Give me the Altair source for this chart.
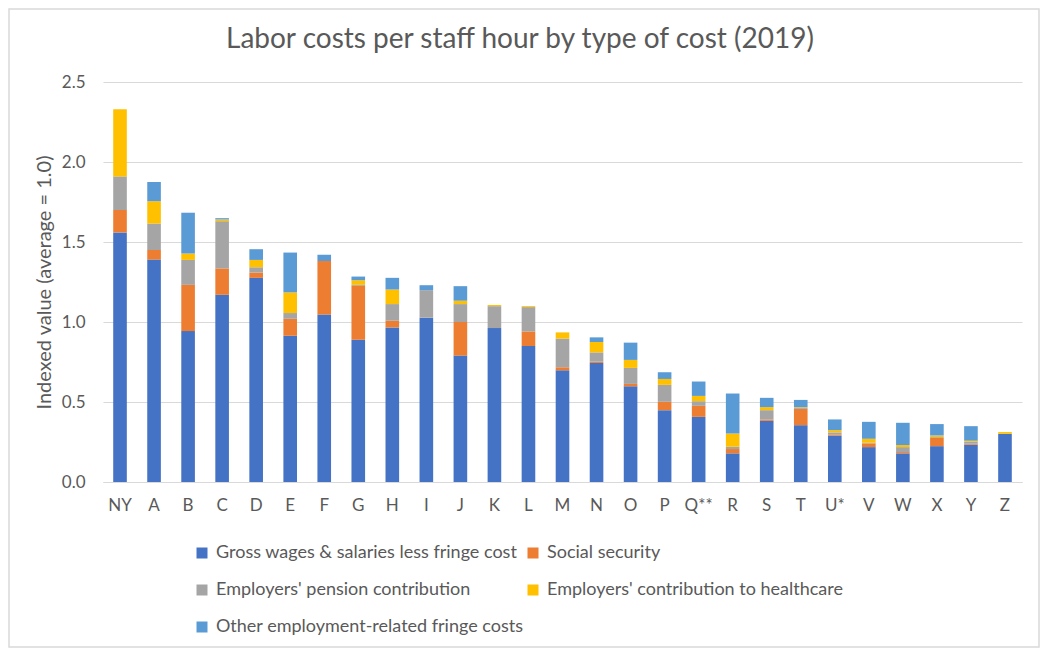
import altair as alt
import pandas as pd

categories = ["NY", "A", "B", "C", "D", "E", "F", "G", "H", "I", "J", "K", "L", "M",
              "N", "O", "P", "Q**", "R", "S", "T", "U*", "V", "W", "X", "Y", "Z"]

series_names = [
    "Gross wages & salaries less fringe cost",
    "Social security",
    "Employers' pension contribution",
    "Employers' contribution to healthcare",
    "Other employment-related fringe costs",
]

gross = [1.56, 1.39, 0.943, 1.17, 1.276, 0.914, 1.047, 0.889, 0.966, 1.027, 0.79, 0.962, 0.85, 0.698,
         0.744, 0.598, 0.449, 0.407, 0.179, 0.382, 0.355, 0.289, 0.218, 0.179, 0.224, 0.233, 0.301]
social = [0.14, 0.06, 0.289, 0.165, 0.033, 0.106, 0.335, 0.337, 0.042, 0.0, 0.21, 0.0, 0.091, 0.019,
          0.008, 0.015, 0.052, 0.069, 0.027, 0.009, 0.102, 0.006, 0.023, 0.008, 0.052, 0.006, 0.0]
pension = [0.21, 0.165, 0.156, 0.295, 0.033, 0.036, 0.0, 0.006, 0.104, 0.172, 0.112, 0.137, 0.152, 0.179,
           0.058, 0.10, 0.106, 0.029, 0.014, 0.058, 0.006, 0.015, 0.004, 0.031, 0.005, 0.012, 0.0]
health = [0.42, 0.14, 0.04, 0.011, 0.046, 0.129, 0.0, 0.029, 0.091, 0.0, 0.021, 0.007, 0.006, 0.039,
          0.065, 0.05, 0.037, 0.033, 0.083, 0.019, 0.004, 0.014, 0.025, 0.013, 0.01, 0.007, 0.011]
other = [0.0, 0.12, 0.255, 0.008, 0.067, 0.249, 0.039, 0.023, 0.073, 0.031, 0.091, 0.0, 0.0, 0.0,
         0.029, 0.108, 0.042, 0.09, 0.25, 0.058, 0.046, 0.067, 0.106, 0.139, 0.071, 0.091, 0.0]

colors = ["#4472C4", "#ED7D31", "#A5A5A5", "#FFC000", "#5B9BD5"]
y_ticks = [0.0, 0.5, 1.0, 1.5, 2.0, 2.5]
title_text = "Labor costs per staff hour by type of cost (2019)"

rows = []
for si, (name, vals) in enumerate(zip(series_names, [gross, social, pension, health, other])):
    for cat, v in zip(categories, vals):
        rows.append({"cat": cat, "series": name, "idx": si, "value": v})
df = pd.DataFrame(rows)

FONT = "Lato"
TXT = "#595959"

bars = alt.Chart(df).mark_bar().encode(
    x=alt.X("cat:N", sort=categories, title=None,
            scale=alt.Scale(paddingInner=0.6, paddingOuter=0.3),
            axis=alt.Axis(labelAngle=0, ticks=False, labelPadding=15, labelFontSize=17,
                          labelColor=TXT, labelFont=FONT, domainColor="#D9D9D9", grid=False)),
    y=alt.Y("value:Q", stack="zero", title="Indexed value (average = 1.0)",
            scale=alt.Scale(domain=[0, 2.5], nice=False),
            axis=alt.Axis(values=y_ticks, format=".1f", ticks=False, domain=False, labelPadding=18,
                          labelFontSize=17, labelColor=TXT, labelFont=FONT, gridColor="#D9D9D9",
                          titleFontSize=20, titleColor=TXT, titleFont=FONT, titleFontWeight="normal",
                          titlePadding=7)),
    color=alt.Color("series:N", sort=series_names,
                    scale=alt.Scale(domain=series_names, range=colors),
                    legend=alt.Legend(title=None, orient="none", legendX=90, legendY=462, columns=2,
                                      direction="horizontal",
                                      symbolType="square", symbolSize=121, symbolStrokeWidth=0,
                                      labelFontSize=18, labelColor=TXT, labelFont=FONT, labelLimit=400,
                                      labelOffset=5, columnPadding=0, rowPadding=19, padding=0)),
    order=alt.Order("idx:Q", sort="ascending"),
)

single = alt.Data(values=[{"t": title_text}])

frame = alt.Chart(single).mark_rect(
    fill=None, stroke="#D9D9D9", strokeWidth=1.5
).encode(x=alt.value(-94), x2=alt.value(936), y=alt.value(-73), y2=alt.value(565))

title = alt.Chart(single).mark_text(
    fontSize=28, font=FONT, color=TXT, align="center", baseline="middle"
).encode(text="t:N", x=alt.value(417), y=alt.value(-42))

chart = alt.layer(bars, frame, title).properties(
    width=919, height=400,
    autosize=alt.AutoSizeParams(type="none"),
    padding={"left": 95, "top": 74, "right": 18, "bottom": 166},
).configure_view(stroke=None)

chart.save("out.html", embed_options={"renderer": "svg", "actions": False})
